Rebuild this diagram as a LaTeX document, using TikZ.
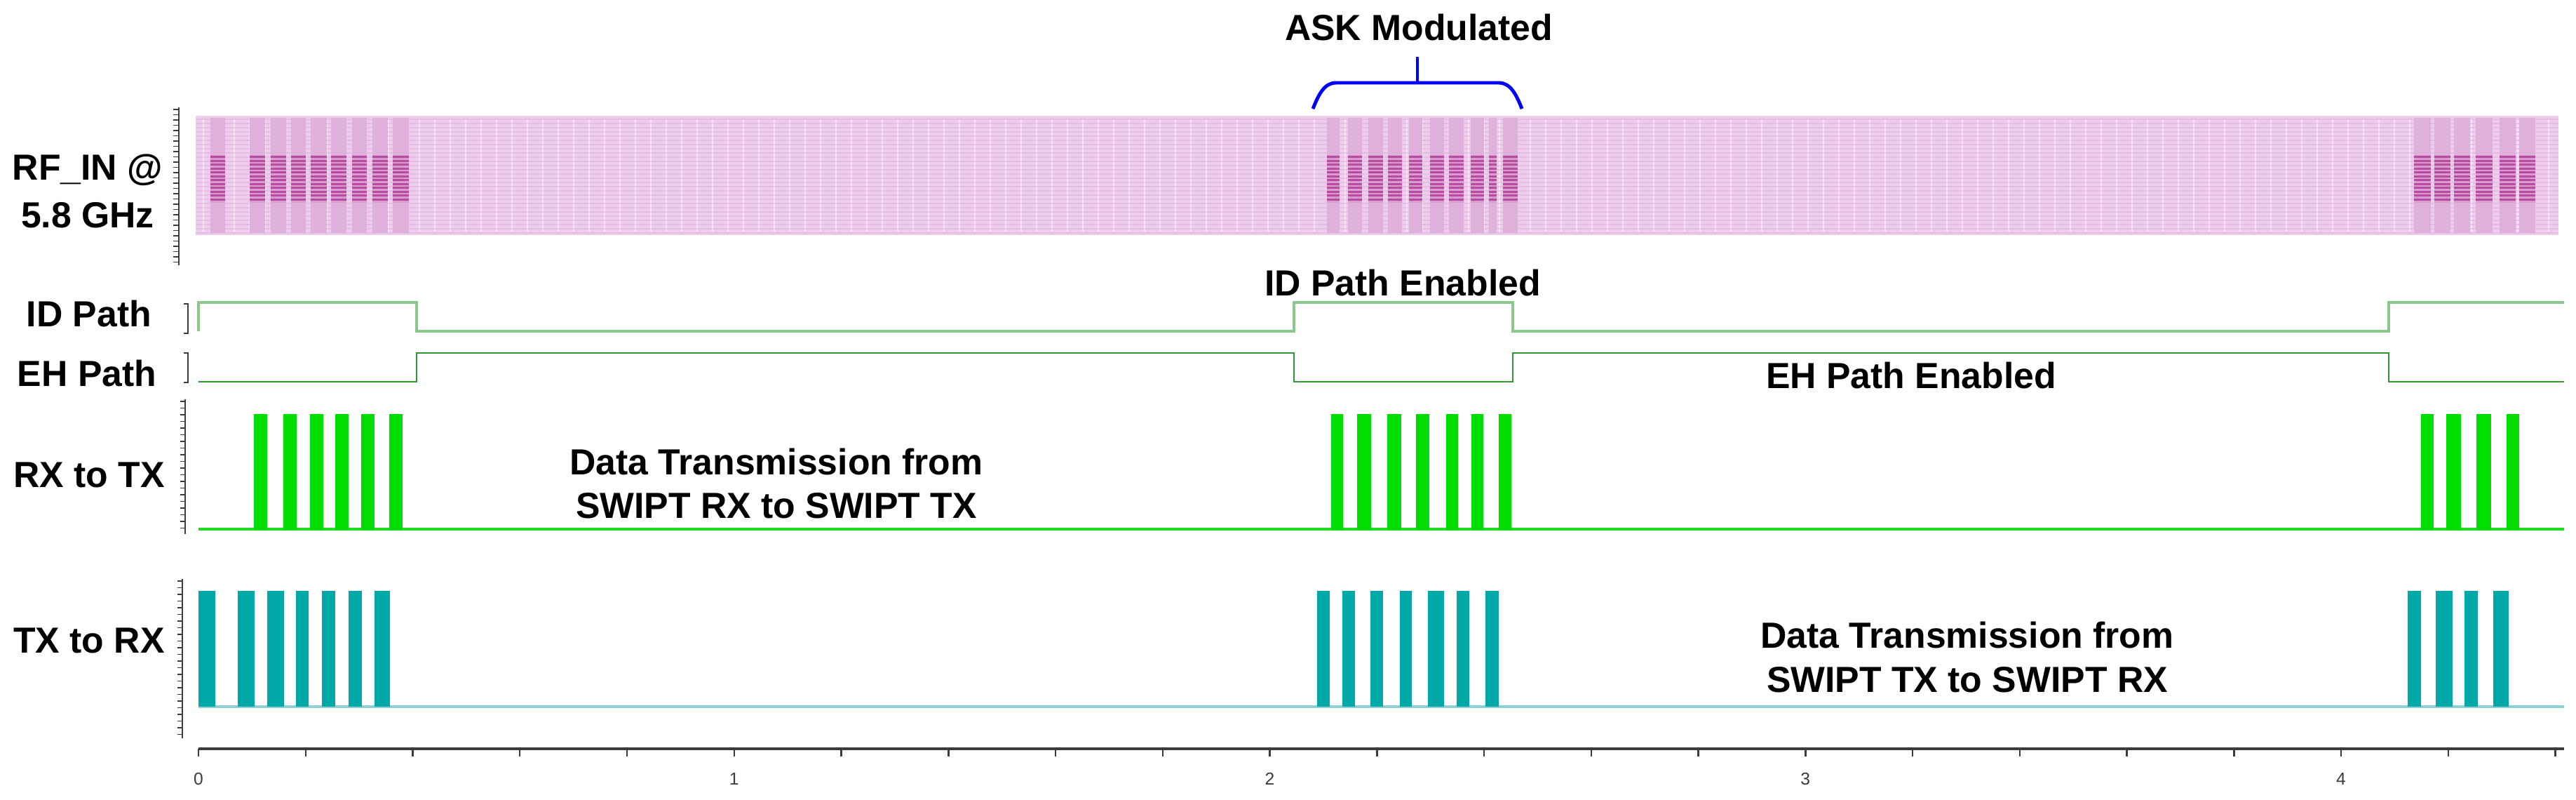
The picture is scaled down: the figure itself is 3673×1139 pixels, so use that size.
\documentclass[tikz,border=0pt]{standalone}
\usepackage{fontspec}
\setmainfont{Liberation Sans}
\begin{document}
\begin{tikzpicture}[x=0.01cm,y=-0.01cm,
  lab/.style={font=\fontsize{14.7}{16}\selectfont\bfseries, inner sep=0pt, align=center},
  idl/.style={draw={rgb,255:red,140;green,200;blue,140}, line width=0.95pt},
  ehl/.style={draw={rgb,255:red,50;green,150;blue,50}, line width=0.75pt},
  rxbar/.style={fill={rgb,255:red,0;green,222;blue,0}},
  txbar/.style={fill={rgb,255:red,0;green,168;blue,168}},
  ruler/.style={draw={rgb,255:red,60;green,60;blue,60}, line width=0.5pt},
  brace/.style={draw={rgb,255:red,0;green,0;blue,255}, line width=1.4pt}]
\useasboundingbox (0,0) rectangle (3673,1139);
\definecolor{pinkbg}{RGB}{238,205,236}
\definecolor{pinkcol}{RGB}{224,176,220}
\definecolor{magstripe}{RGB}{185,75,160}
% ---------- RF_IN box ----------
\fill[pinkbg] (279,165) rectangle (3648,335);
\foreach \x in {290,312,...,3640} \draw[white,opacity=0.55,line width=0.8pt] (\x,170) -- (\x,330);
\foreach \y in {170,176,...,332} \draw[pinkcol,opacity=0.5,line width=0.3pt] (279,\y) -- (3648,\y);
\foreach \a/\b in {300/321,356/378,386/408,415/436,443/466,472/494,502/523,531/553,560/583,
  1892/1910,1922/1942,1951/1972,1979/1999,2009/2028,2039/2059,2066/2087,2097/2116,2123/2134,2143/2164,
  3442/3466,3471/3494,3499/3522,3530/3554,3564/3587,3592/3615}{
  \fill[pinkcol] (\a,168) rectangle (\b,332);
  \fill[pinkcol!80!magstripe] (\a,221) rectangle (\b,289);
  \foreach \y in {222,227.5,...,287} \fill[magstripe] (\a,\y) rectangle (\b,\y+3.2);
}
% RF ruler
\draw[ruler] (255,153) -- (255,378);
\foreach \y in {156,163.5,...,378} \draw[ruler,line width=0.35pt] (247,\y) -- (255,\y);
\node[lab] (rf1) at (125,242) {RF\_IN @};
\node[lab] (rf2) at (125,307) {5.8 GHz};
% ASK brace
\draw[brace] (1872,155) .. controls (1880,135) and (1888,118) .. (1905,118) -- (2137,118) .. controls (2154,118) and (2162,135) .. (2170,155);
\draw[brace] (2021,118) -- (2021,81);
\node[lab] (ask) at (2023,39) {ASK Modulated};
% ---------- ID / EH path ----------
\node[lab] (idp) at (127,447) {ID Path};
\node[lab] (ehp) at (124,532) {EH Path};
\draw[ruler,line width=0.8pt] (262,433) -- (268,433) -- (268,475) -- (262,475);
\draw[ruler,line width=0.8pt] (262,503) -- (268,503) -- (268,545) -- (262,545);
\draw[idl] (283,472) -- (283,431) -- (594,431) -- (594,472) -- (1845,472) -- (1845,431) -- (2157,431) -- (2157,472) -- (3406,472) -- (3406,431) -- (3656,431);
\draw[ehl] (283,544) -- (594,544) -- (594,503) -- (1845,503) -- (1845,544) -- (2157,544) -- (2157,503) -- (3406,503) -- (3406,544) -- (3656,544);
\node[lab] (iden) at (2000,403) {ID Path Enabled};
\node[lab] (ehen) at (2725,535) {EH Path Enabled};
% ---------- RX to TX ----------
\node[lab] (rxtx) at (127,677) {RX to TX};
\draw[ruler] (264,569) -- (264,761);
\foreach \y in {572,581.5,...,761} \draw[ruler,line width=0.35pt] (257,\y) -- (264,\y);
\draw[draw={rgb,255:red,30;green,220;blue,30}, line width=1pt] (283,754) -- (3656,754);
\foreach \a/\b in {362/381,404/423,442/461,478/497,515/534,555/574,
  1898/1915,1935/1955,1978/1998,2019/2038,2062/2079,2098/2115,2137/2155,
  3452/3470,3488/3509,3531/3552,3574/3592}
  \fill[rxbar] (\a,590) rectangle (\b,755);
\node[lab] (d1) at (1107,658) {Data Transmission from};
\node[lab] (d2) at (1107,721) {SWIPT RX to SWIPT TX};
% ---------- TX to RX ----------
\node[lab] (txrx) at (127,913) {TX to RX};
\draw[ruler] (260,825) -- (260,1052);
\foreach \y in {828,837.5,...,1052} \draw[ruler,line width=0.35pt] (253,\y) -- (260,\y);
\draw[draw={rgb,255:red,140;green,212;blue,212}, line width=1.2pt] (283,1007) -- (3656,1007);
\foreach \a/\b in {283/307,339/363,381/405,422/440,459/478,497/516,534/556,
  1878/1896,1914/1932,1954/1972,1996/2013,2036/2059,2077/2095,2118/2137,
  3433/3452,3473/3497,3514/3533,3555/3577}
  \fill[txbar] (\a,842) rectangle (\b,1007);
\node[lab] (d3) at (2805,905) {Data Transmission from};
\node[lab] (d4) at (2805,969) {SWIPT TX to SWIPT RX};
% ---------- time axis ----------
\draw[ruler,line width=1.2pt] (283,1067) -- (3656,1067);
\foreach \i in {0,...,22} \draw[ruler,line width=0.7pt] ({283+152.75*\i},1067) -- ({283+152.75*\i},1078);
\foreach \i in {0,...,4} \node[font=\fontsize{7}{8}\selectfont, text={rgb,255:red,60;green,60;blue,60}, inner sep=0pt] (t\i) at ({283+763.75*\i},1110) {\i};
\end{tikzpicture}
\end{document}
